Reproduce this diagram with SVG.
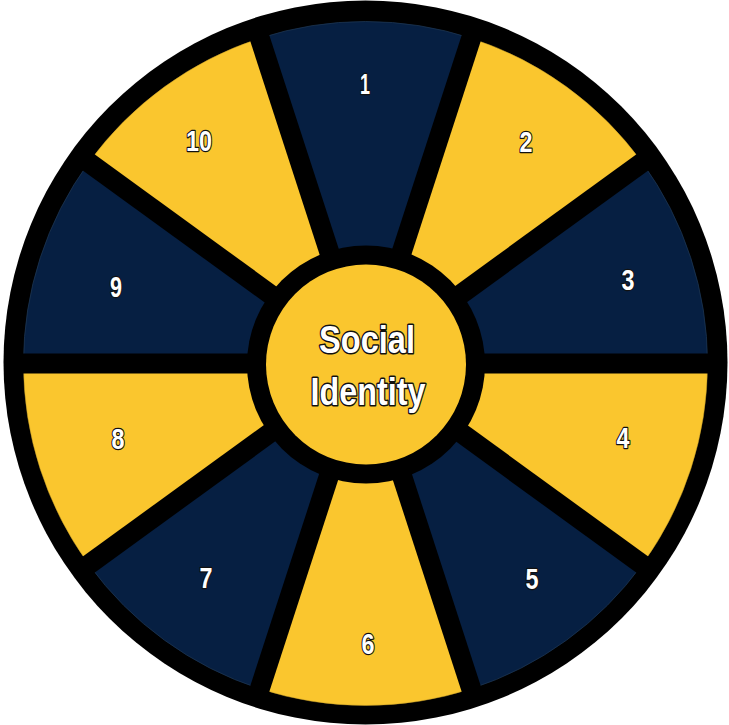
<svg xmlns="http://www.w3.org/2000/svg" width="729" height="725" viewBox="0 0 729 725">
<style>
.navy{fill:#061f42;stroke:#1d3550;stroke-width:0.8}
.gold{fill:#fac62e;stroke:#c9a02a;stroke-width:0.5}
.num{font-family:"Liberation Sans",Arial,sans-serif;font-weight:bold;font-size:29px;fill:#ffffff;stroke:#111111;stroke-width:2.4;paint-order:stroke;stroke-linejoin:round;text-anchor:middle}
.title{font-family:"Liberation Sans",Arial,sans-serif;font-weight:bold;font-size:39px;fill:#ffffff;stroke:#111111;stroke-width:3;paint-order:stroke;stroke-linejoin:round;text-anchor:middle}
.sep{stroke:#000000;stroke-width:20;stroke-linecap:butt}
</style>
<circle id="rim" cx="365.5" cy="362.5" r="362" fill="#000000"/>
<g id="seg1"><path class="navy" d="M471.18 38.24 A342 342 0 0 0 259.82 38.24 L331.51 258.88 A110 110 0 0 1 399.49 258.88 Z"/><text class="num" x="365" y="94" textLength="10" lengthAdjust="spacingAndGlyphs">1</text></g>
<g id="seg2"><path class="gold" d="M642.18 162.48 A342 342 0 0 0 471.18 38.24 L399.49 258.88 A110 110 0 0 1 454.49 298.84 Z"/><text class="num" x="526" y="152" textLength="13" lengthAdjust="spacingAndGlyphs">2</text></g>
<g id="seg3"><path class="navy" d="M707.5 363.5 A342 342 0 0 0 642.18 162.48 L454.49 298.84 A110 110 0 0 1 475.5 363.5 Z"/><text class="num" x="628" y="290" textLength="13" lengthAdjust="spacingAndGlyphs">3</text></g>
<g id="seg4"><path class="gold" d="M642.18 564.52 A342 342 0 0 0 707.5 363.5 L475.5 363.5 A110 110 0 0 1 454.49 428.16 Z"/><text class="num" x="623" y="448" textLength="13" lengthAdjust="spacingAndGlyphs">4</text></g>
<g id="seg5"><path class="navy" d="M471.18 688.76 A342 342 0 0 0 642.18 564.52 L454.49 428.16 A110 110 0 0 1 399.49 468.12 Z"/><text class="num" x="532" y="589" textLength="13" lengthAdjust="spacingAndGlyphs">5</text></g>
<g id="seg6"><path class="gold" d="M259.82 688.76 A342 342 0 0 0 471.18 688.76 L399.49 468.12 A110 110 0 0 1 331.51 468.12 Z"/><text class="num" x="368" y="654" textLength="13" lengthAdjust="spacingAndGlyphs">6</text></g>
<g id="seg7"><path class="navy" d="M88.82 564.52 A342 342 0 0 0 259.82 688.76 L331.51 468.12 A110 110 0 0 1 276.51 428.16 Z"/><text class="num" x="206" y="588" textLength="13" lengthAdjust="spacingAndGlyphs">7</text></g>
<g id="seg8"><path class="gold" d="M23.5 363.5 A342 342 0 0 0 88.82 564.52 L276.51 428.16 A110 110 0 0 1 255.5 363.5 Z"/><text class="num" x="118" y="449" textLength="13" lengthAdjust="spacingAndGlyphs">8</text></g>
<g id="seg9"><path class="navy" d="M88.82 162.48 A342 342 0 0 0 23.5 363.5 L255.5 363.5 A110 110 0 0 1 276.51 298.84 Z"/><text class="num" x="116" y="297" textLength="12" lengthAdjust="spacingAndGlyphs">9</text></g>
<g id="seg10"><path class="gold" d="M259.82 38.24 A342 342 0 0 0 88.82 162.48 L276.51 298.84 A110 110 0 0 1 331.51 258.88 Z"/><text class="num" x="199" y="151" textLength="26" lengthAdjust="spacingAndGlyphs">10</text></g>
<g id="separators">
<line class="sep" x1="13.5" y1="363.5" x2="717.5" y2="363.5"/>
<line class="sep" x1="650.28" y1="156.60" x2="80.72" y2="570.40"/>
<line class="sep" x1="474.28" y1="28.73" x2="256.72" y2="698.27"/>
<line class="sep" x1="256.72" y1="28.73" x2="474.28" y2="698.27"/>
<line class="sep" x1="80.72" y1="156.60" x2="650.28" y2="570.40"/>
</g>
<g id="center">
<circle cx="366" cy="364.5" r="119" fill="#000000"/>
<circle cx="366" cy="364.5" r="100" fill="#fac62e"/>
<text class="title" x="367" y="353" textLength="96" lengthAdjust="spacingAndGlyphs">Social</text>
<text class="title" x="368" y="405" textLength="115" lengthAdjust="spacingAndGlyphs">Identity</text>
</g>
</svg>
